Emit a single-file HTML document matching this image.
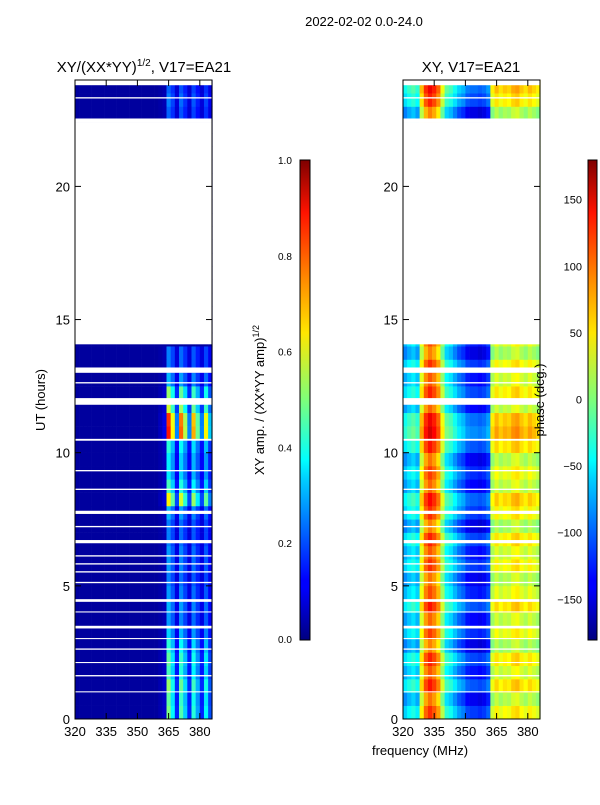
<!DOCTYPE html>
<html><head><meta charset="utf-8"><style>
body{margin:0;background:#fff;width:600px;height:800px;overflow:hidden;font-family:"Liberation Sans",sans-serif}
svg text{font-family:"Liberation Sans",sans-serif;fill:#000}
</style></head><body>
<svg id="c" width="600" height="800" xmlns="http://www.w3.org/2000/svg">
<defs>
<linearGradient id="jet" x1="0" y1="1" x2="0" y2="0">
<stop offset="0" stop-color="#00007f"/><stop offset="0.11" stop-color="#0000ff"/><stop offset="0.125" stop-color="#0000ff"/>
<stop offset="0.34" stop-color="#00d4ff"/><stop offset="0.375" stop-color="#00ffff"/><stop offset="0.5" stop-color="#7dff7a"/>
<stop offset="0.64" stop-color="#ffe600"/><stop offset="0.75" stop-color="#ff8c00"/><stop offset="0.89" stop-color="#ff1300"/><stop offset="1" stop-color="#7f0000"/>
</linearGradient>
</defs>
<text x="364" y="26" font-size="13" text-anchor="middle">2022-02-02 0.0-24.0</text>
<text x="144" y="72" font-size="15" text-anchor="middle">XY/(XX*YY)<tspan font-size="10" dy="-6">1/2</tspan><tspan dy="6">, V17=EA21</tspan></text>
<text x="471" y="72" font-size="15" text-anchor="middle">XY, V17=EA21</text>
<text transform="translate(45,400) rotate(-90)" font-size="13" text-anchor="middle">UT (hours)</text>
<text transform="translate(264,400) rotate(-90)" font-size="13" text-anchor="middle">XY amp. / (XX*YY amp)<tspan font-size="9" dy="-5">1/2</tspan></text>
<g id="left"></g>
<g id="right"></g>
<g id="axes"></g>
<text transform="translate(544,400) rotate(-90)" font-size="13" text-anchor="middle">phase (deg.)</text>
<text x="420" y="755" font-size="13" text-anchor="middle">frequency (MHz)</text>
<rect x="300" y="160" width="10" height="480" fill="url(#jet)" stroke="#000" stroke-width="1"/>
<rect x="588" y="160" width="9" height="480" fill="url(#jet)" stroke="#000" stroke-width="1"/>
</svg>
<script>
// data
const freqChannels=[320,322,324,326,328,330,332,334,336,338,340,342,344,346,348,350,352,354,356,358,360,362,364,366,368,370,372,374,376,378,380,382,384];
const ampProfile=[0,0,0,0,0,0,0,0,0,0,0,0,0,0,0,0,0,0,0,0,0.02,0.05,0.55,0.4,0.15,0.5,0.35,0.15,0.45,0.3,0.15,0.4,0.2];
const ampRowFactor=[0.85,0.8,0.9,0.75,0.8,0.7,0.55,0.45,0.5,0.45,0.4,0.45,0.45,0.4,0.4,0.5,1.1,0.75,0.6,0.6,0.7,1.5,1.45,1.0,0.9,0.5,0.4,0.4,0,0,0,0,0,0,0,0,0,0,0,0,0,0,0,0,0,0.35,0.4,0.35];
const phaseProfile=[-70,-55,-45,-60,40,90,110,95,70,10,-40,-50,-70,-90,-100,-120,-125,-125,-130,-125,-110,20,40,25,35,30,45,50,35,25,40,30,20];
const phaseRowOffset=[10,-15,20,-5,15,-20,5,-10,20,0,-15,10,-5,15,-20,10,25,-10,5,-15,20,40,30,-10,15,-5,10,-20,0,0,0,0,0,0,0,0,0,0,0,0,0,0,0,0,0,-20,15,30];
const gaps=[[23.8,24],[22.4,22.55],[14.07,22.4],[23.3,23.35],[13.0,13.2],[12.6,12.65],[11.8,12.05],[10.45,10.52],[9.3,9.35],[8.6,8.65],[7.7,7.82],[7.2,7.25],[6.6,6.72],[6.1,6.15],[5.8,5.85],[5.5,5.55],[5.1,5.15],[4.4,4.5],[3.4,3.5],[2.6,2.65],[1.6,1.65],[2.1,2.14],[1.0,1.04],[3.0,3.04],[4.0,4.04]];
const xTicks=[320,335,350,365,380];
const yTicks=[0,5,10,15,20];
const ampTicks=[0.0,0.2,0.4,0.6,0.8,1.0];
const phaseTicks=[-150,-100,-50,0,50,100,150];

const NS="http://www.w3.org/2000/svg";
const y=h=>719-h*26.63;
const xL=f=>75+(f-320)*2.08, xR=f=>403+(f-320)*2.08;
function jet(v){v=Math.max(0,Math.min(1,v));const c=t=>Math.round(255*Math.max(0,Math.min(1,1.5-Math.abs(4*v-t))));return `rgb(${c(3)},${c(2)},${c(1)})`;}
function mk(tag,p,parent){const e=document.createElementNS(NS,tag);for(const k in p)e.setAttribute(k,p[k]);parent.appendChild(e);return e;}
const L=document.getElementById('left'),R=document.getElementById('right'),A=document.getElementById('axes');
ampRowFactor.forEach((rf,r)=>{
  freqChannels.forEach((f,c)=>{
    const v=0.03+ampProfile[c]*rf;
    const e=mk('rect',{x:xL(f),y:y((r+1)*0.5),width:2.08*2+0.3,height:13.6,fill:jet(v)},L);
    
    
    let p=phaseProfile[c]+phaseRowOffset[r];
    p=Math.max(-180,Math.min(180,p));
    const e2=mk('rect',{x:xR(f),y:y((r+1)*0.5),width:2.08*2+0.3,height:13.6,fill:jet((p+180)/360)},R);
    
    
  });
});
gaps.forEach(g=>{
  [75,403].forEach(x0=>{
    const e=mk('rect',{x:x0,y:y(g[1]),width:137,height:y(g[0])-y(g[1]),fill:'#fff'},A);
    
    
  });
});
[75,403].forEach((x0,i)=>{
  const fr=mk('rect',{x:x0,y:80,width:137,height:639,fill:'none',stroke:'#000','stroke-width':1},A);
  
  
  const xf=i?xR:xL;
  xTicks.forEach(t=>{
    mk('line',{x1:xf(t),x2:xf(t),y1:719,y2:713,stroke:'#000'},A);
    mk('line',{x1:xf(t),x2:xf(t),y1:80,y2:86,stroke:'#000'},A);
    const tx=mk('text',{x:xf(t),y:736,'font-size':13,'text-anchor':'middle'},A);tx.textContent=t;
    
    
  });
  yTicks.forEach(t=>{
    mk('line',{x1:x0,x2:x0+6,y1:y(t),y2:y(t),stroke:'#000'},A);
    mk('line',{x1:x0+137,x2:x0+131,y1:y(t),y2:y(t),stroke:'#000'},A);
    const tx=mk('text',{x:x0-5,y:y(t)+5,'font-size':13,'text-anchor':'end'},A);tx.textContent=t;
    
    
  });
});
ampTicks.forEach(t=>{
  const yy=639-t*479;
  mk('line',{x1:300,x2:303,y1:yy,y2:yy,stroke:'#000'},A);
  const tx=mk('text',{x:278,y:yy+4,'font-size':10},A);tx.textContent=t.toFixed(1);
  
  
});
phaseTicks.forEach(t=>{
  const yy=399.5-t*1.332;
  mk('line',{x1:588,x2:591,y1:yy,y2:yy,stroke:'#000'},A);
  const tx=mk('text',{x:582,y:yy+4,'font-size':11,'text-anchor':'end'},A);tx.textContent=t<0?'\u2212'+(-t):t;
  
  
});
</script>
</body></html>
